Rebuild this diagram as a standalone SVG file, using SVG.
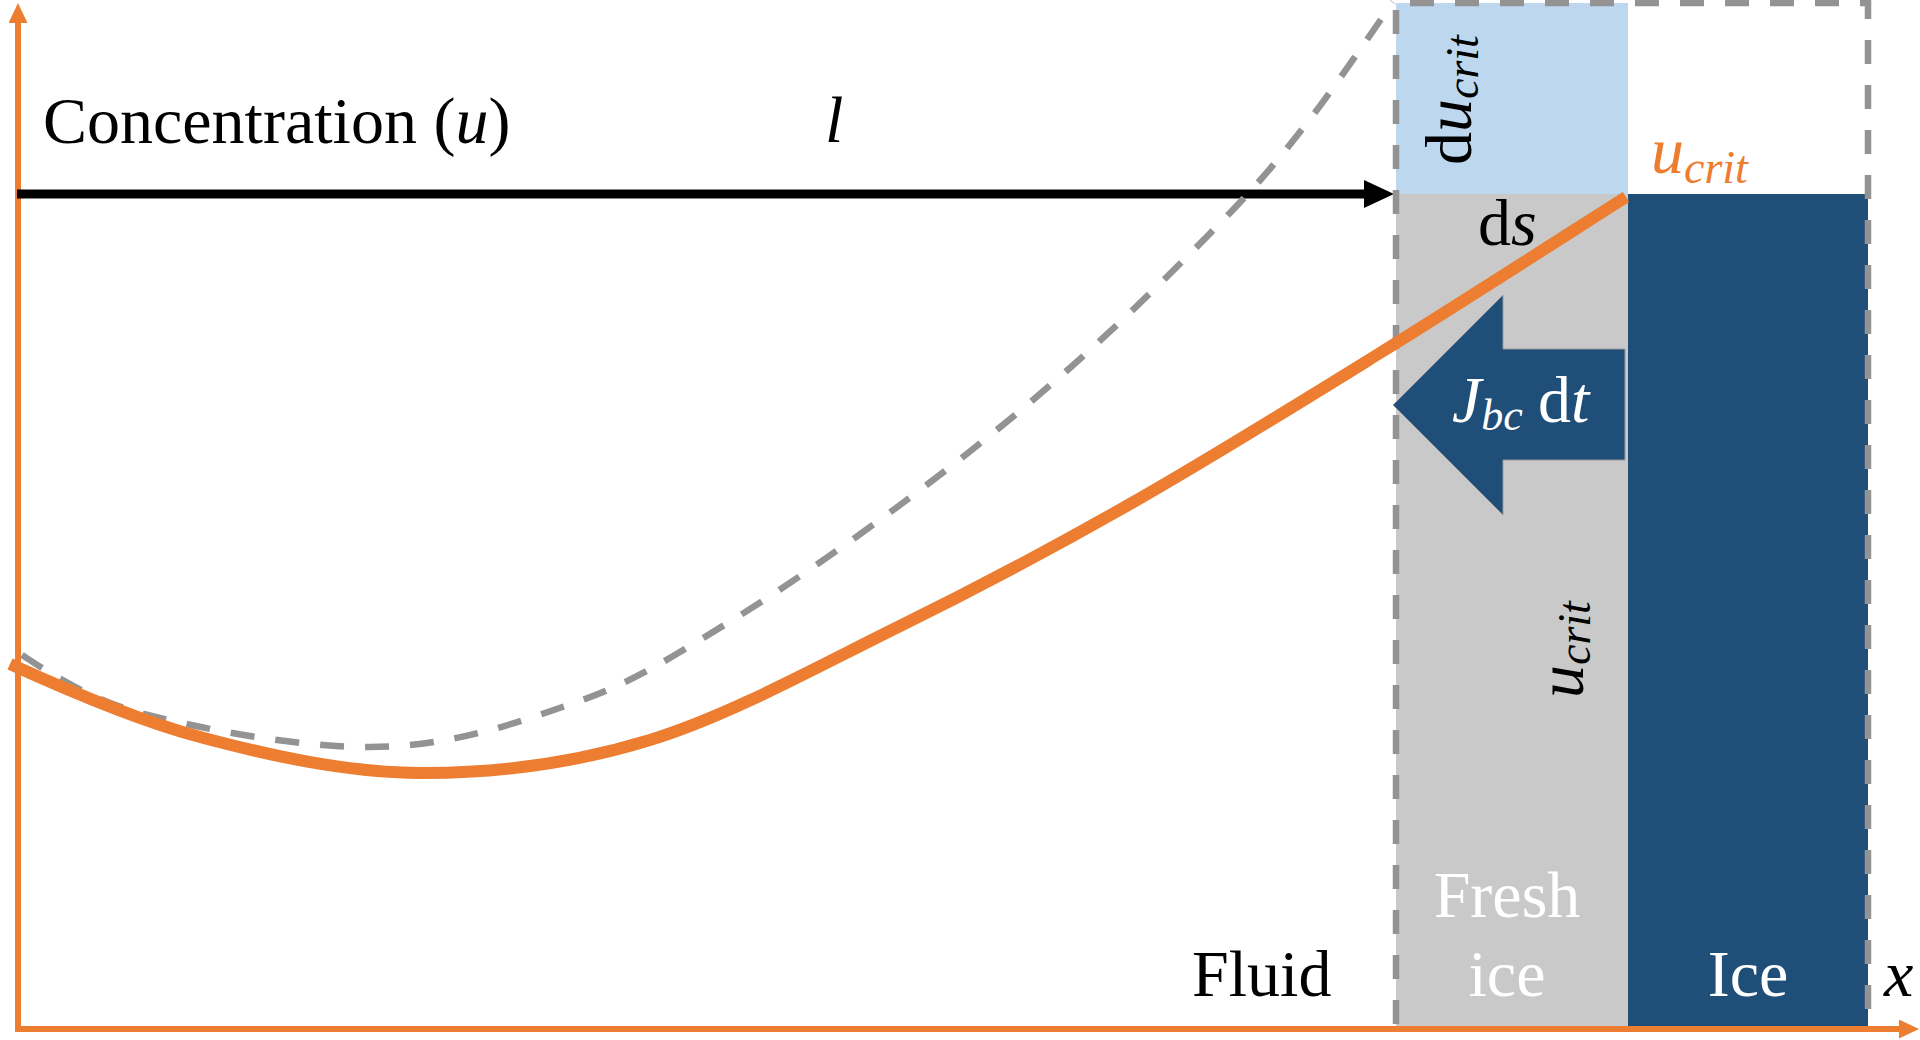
<svg xmlns="http://www.w3.org/2000/svg" width="1920" height="1040" viewBox="0 0 1920 1040">
<style>
text{font-family:"Liberation Serif","Tinos","Times New Roman","Nimbus Roman","DejaVu Serif",serif;font-size:66px;fill:#000}
.w{fill:#fff}
.o{fill:#ED7D31}
.i{font-style:italic}
.ax{stroke:#ED7D31;stroke-width:6;fill:none}
.dash{stroke:#939393;stroke-width:6.5;fill:none;stroke-dasharray:24 21}
</style>
<defs>
<marker id="ah-o" markerUnits="userSpaceOnUse" markerWidth="20" markerHeight="19" viewBox="0 0 20 19" refX="0" refY="9.5" orient="auto"><path d="M0,0 L20,9.5 L0,19 z" fill="#ED7D31"/></marker>
<marker id="ah-k" markerUnits="userSpaceOnUse" markerWidth="30" markerHeight="28" viewBox="0 0 30 28" refX="0" refY="14" orient="auto"><path d="M0,0 L30,14 L0,28 z" fill="#000"/></marker>
</defs>
<rect width="1920" height="1040" fill="#fff"/>

<g id="du-region">
<rect x="1396" y="3" width="232" height="191" fill="#BDD7EE"/>
<text transform="translate(1471,165) rotate(-90)">d<tspan class="i">u</tspan><tspan class="i" style="font-size:46px" dy="7">crit</tspan></text>
</g>
<g id="fresh-ice">
<rect x="1396" y="194" width="232" height="833" fill="#C9C9C9"/>
<text transform="translate(1583,698) rotate(-90)"><tspan class="i">u</tspan><tspan class="i" style="font-size:46px" dy="7">crit</tspan></text>
<text class="w" x="1507" y="917" text-anchor="middle">Fresh</text>
<text class="w" x="1507" y="996" text-anchor="middle">ice</text>
</g>
<g id="ice">
<rect x="1628" y="194" width="240" height="833" fill="#1F4E79"/>
<text class="w" x="1748" y="996" text-anchor="middle">Ice</text>
</g>

<g id="connectors">
<line class="ax" x1="18" y1="1032" x2="18" y2="23" marker-end="url(#ah-o)"/>
<line class="ax" x1="15" y1="1029" x2="1899" y2="1029" marker-end="url(#ah-o)"/>
<line x1="17" y1="194" x2="1364" y2="194" stroke="#000" stroke-width="9" marker-end="url(#ah-k)"/>
<path class="dash" d="M1396,1024 V3 H1868 V1024"/>
<path class="dash" d="M22,655 C42,668 85.3,697.7 140,713 C198,728.3 298,747.5 370,747 C450,747 514.7,723.5 574,703 C633.3,682.5 671,657.5 726,624 C781,590.5 846.5,544.8 904,502 C961.5,459.2 1017.3,414.5 1071,367 C1124.7,319.5 1186.2,258.3 1226,217 C1265.8,175.7 1282.2,154.8 1310,119 C1337.8,83.2 1379.2,21.5 1393,2"/>
<path d="M10,664 C45,680 131.7,718.8 200,737 C268.3,755.2 345,772.5 420,773 C495,773.5 570,764.5 650,740 C730,715.5 820,665.3 900,626 C980,586.7 1050,549.5 1130,504 C1210,458.5 1297.3,404.2 1380,353 C1462.7,301.8 1585,223 1626,197" fill="none" stroke="#ED7D31" stroke-width="12"/>
</g>

<g id="flux-arrow">
<polygon points="1393,405 1503,295 1503,349 1625,349 1625,460 1503,460 1503,515" fill="#1F4E79" stroke="#9a9a9a" stroke-width="1"/>
<text class="w" x="1452" y="422"><tspan class="i">J</tspan><tspan class="i" style="font-size:44px" dy="8">bc</tspan><tspan x="1538" dy="-8">d</tspan><tspan class="i">t</tspan></text>
</g>

<g id="labels">
<text x="43" y="143">Concentration (<tspan class="i">u</tspan>)</text>
<text class="i" x="825" y="142">l</text>
<text x="1478" y="245">d<tspan class="i">s</tspan></text>
<text class="i o" x="1651" y="173">u<tspan style="font-size:46px" dy="10">crit</tspan></text>
<text x="1192" y="996">Fluid</text>
<text class="i" x="1884" y="996">x</text>
</g>
</svg>
